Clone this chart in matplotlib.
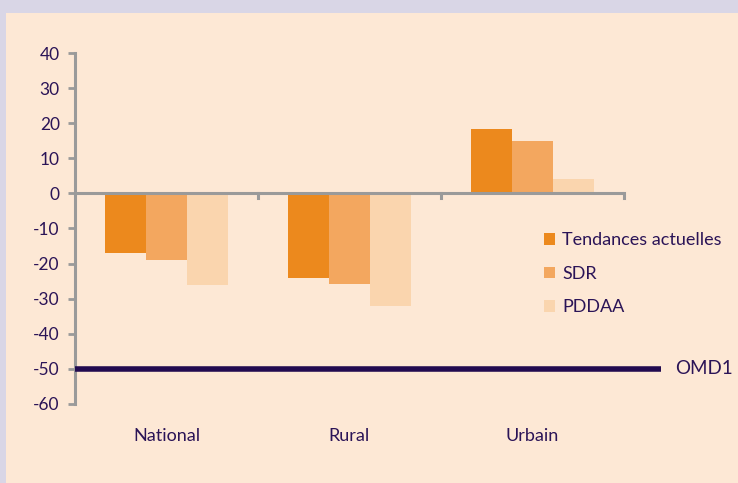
import matplotlib.pyplot as plt
from matplotlib.patches import Rectangle
import numpy as np

categories = ['National', 'Rural', 'Urbain']
series = ['Tendances actuelles', 'SDR', 'PDDAA']
tendances = [-17.0, -24.1, 18.3]
sdr = [-19.0, -25.8, 14.9]
pddaa = [-26.1, -32.0, 4.1]
omd1 = -50
yticks = [40, 30, 20, 10, 0, -10, -20, -30, -40, -50, -60]

bg = '#fde8d5'
txt = '#2b1457'
colors = ['#ec891d', '#f3a75f', '#fad5ae']

fig = plt.figure(figsize=(7.38, 4.83), dpi=100, facecolor='#d9d6e6')
fig.patches.append(Rectangle((6 / 738, 0), 1, 1 - 13 / 483, transform=fig.transFigure,
                             facecolor=bg, edgecolor='none', zorder=-10))

ax = fig.add_axes([75 / 738, 1 - 404 / 483, (624 - 75) / 738, (404 - 53) / 483])
ax.set_facecolor('none')

x = np.arange(len(categories))
w = 0.224
for i, (vals, c, lab) in enumerate(zip([tendances, sdr, pddaa], colors, series)):
    ax.bar(x + (i - 1) * w, vals, width=w, color=c, label=lab, zorder=2)

ax.set_xlim(-0.5, 2.5)
ax.set_ylim(-60, 40)

# zero line acts as category axis
ax.axhline(0, color='#9a9a9a', lw=2.2, zorder=3)
for b in [0.5, 1.5, 2.5]:
    ax.plot([b, b], [0, -1.3], color='#9a9a9a', lw=2.2, zorder=3, clip_on=False)

# OMD1 target line, runs past the plot area
ax.plot([-0.5, 2.70], [omd1, omd1], color='#220b50', lw=4, zorder=4,
        clip_on=False, solid_capstyle='butt')
ax.text(2.78, omd1, 'OMD1', color=txt, fontsize=13.5, family='Lato',
        va='center', ha='left')

for s in ['top', 'right', 'bottom']:
    ax.spines[s].set_visible(False)
ax.spines['left'].set_color('#9a9a9a')
ax.spines['left'].set_linewidth(2.2)

ax.set_yticks(yticks)
ax.set_yticklabels([str(v) for v in yticks], color=txt, fontsize=12.5, family='Lato')
ax.tick_params(axis='y', length=5, width=2, color='#9a9a9a', pad=6)
ax.set_xticks(x)
ax.set_xticklabels(categories, color=txt, fontsize=13, family='Lato')
ax.tick_params(axis='x', length=0, pad=17)

leg = ax.legend(loc='upper left', bbox_to_anchor=(0.825, 0.535), frameon=False,
                handlelength=0.6, handleheight=0.6, handletextpad=0.4,
                labelspacing=0.97, prop={'family': 'Lato', 'size': 13})
for t in leg.get_texts():
    t.set_color(txt)

fig.savefig('out.png', dpi=100, facecolor=fig.get_facecolor())
